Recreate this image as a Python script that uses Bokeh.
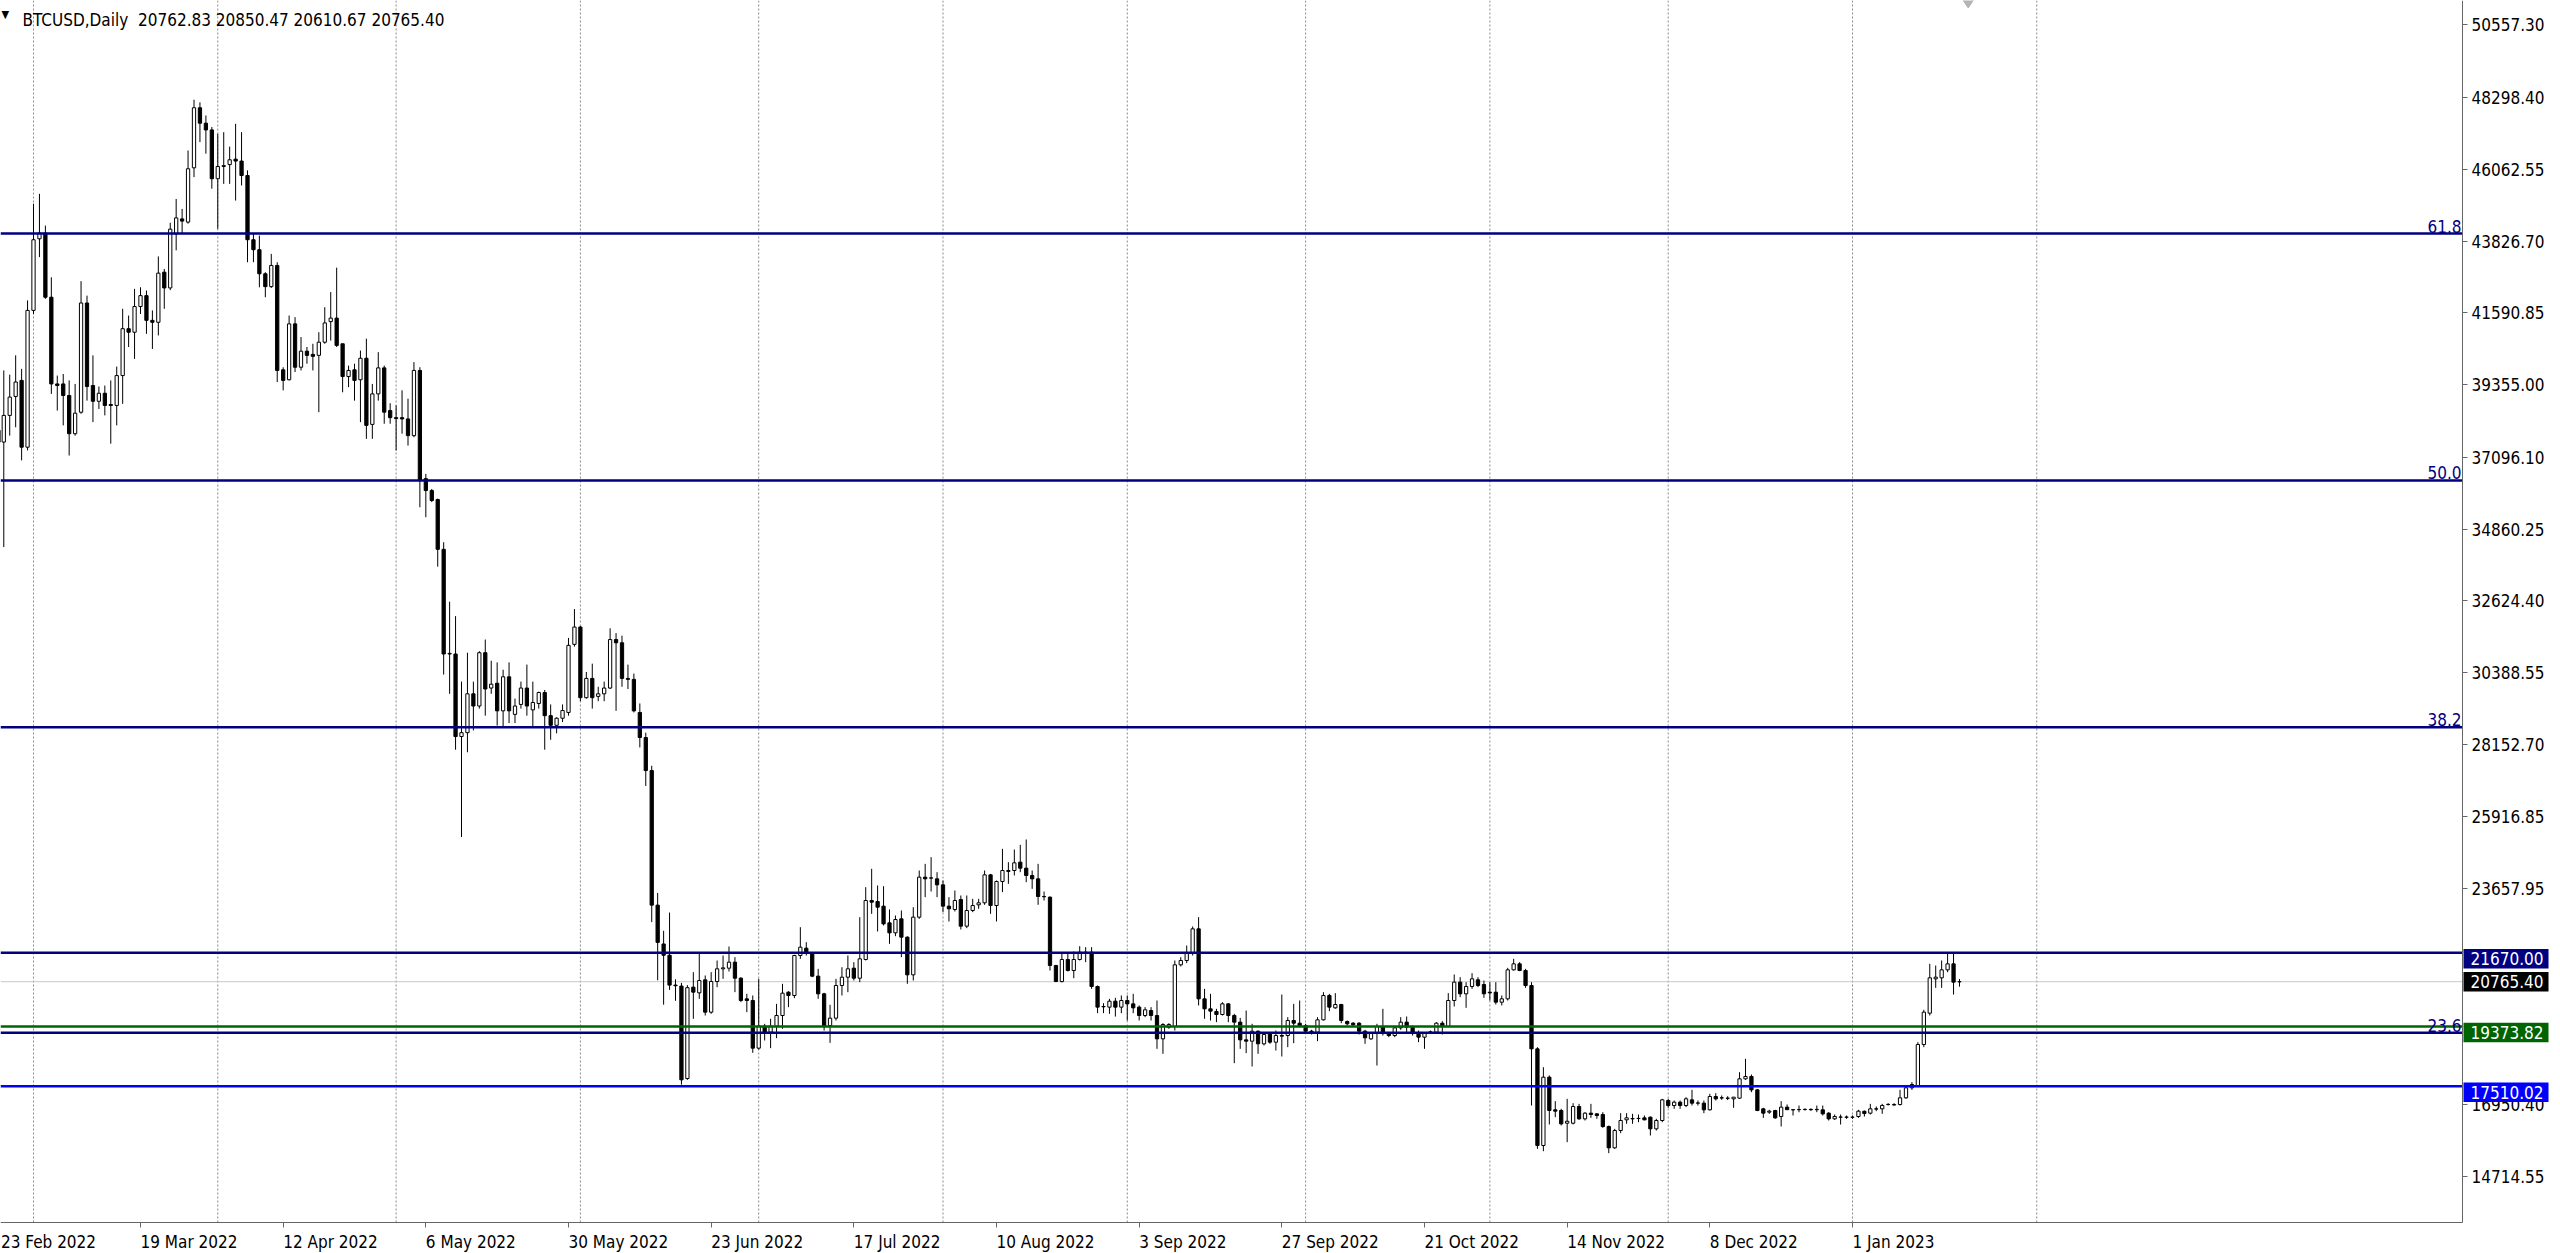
import datetime as dt
from bokeh.plotting import figure
from bokeh.models import ColumnDataSource, Range1d, FixedTicker, Label, LinearAxis
from bokeh.embed import file_html
from bokeh.resources import INLINE

symbol = "BTCUSD,Daily"
first_day = dt.date(2022, 2, 23)

# daily candles (open, high, low, close)
feb_2022 = [(37930, 38500, 37300, 37570), (37570, 39800, 34300, 38400), (38400, 39670, 37770, 38970),
            (38990, 40270, 38030, 39440), (39490, 39850, 37000, 37410), (37410, 41980, 37310, 41670)]
mar_2022 = [(41670, 44990, 41560, 43870), (43900, 45300, 43330, 44080), (44080, 44310, 42030, 42080),
            (42080, 42700, 39070, 39380), (39380, 39640, 38550, 39330), (39380, 39690, 38090, 39020),
            (39020, 39490, 37150, 37830), (37830, 39380, 37770, 38470), (38500, 42580, 38450, 41900),
            (41900, 42130, 38860, 39300), (39330, 40270, 38190, 38840), (38840, 39300, 38600, 39090),
            (39090, 39330, 38400, 38710), (38740, 39490, 37520, 38710), (38710, 39920, 38090, 39640),
            (39640, 41720, 38760, 41100), (41100, 41510, 40530, 40990), (40990, 42340, 40160, 41790),
            (41790, 42390, 41560, 42130), (42130, 42290, 40940, 41360), (41360, 41670, 40470, 41300),
            (41300, 43350, 40890, 42830), (42860, 42960, 41720, 42370), (42370, 44400, 42300, 44200),
            (44050, 45140, 43540, 44550), (44520, 44830, 44050, 44450), (44420, 46650, 44370, 46080),
            (46110, 48230, 45820, 47980), (47980, 48150, 46910, 47500), (47500, 47740, 46550, 47290),
            (47290, 47380, 45460, 45770)]
apr_2022 = [(45770, 47170, 44210, 46150), (46150, 47220, 45610, 46180), (46210, 46770, 45610, 46360),
            (46380, 47480, 45090, 46320), (46320, 47220, 45560, 45870), (45870, 46030, 43170, 43870),
            (43870, 44050, 43170, 43560), (43560, 44000, 42390, 42810), (42810, 42860, 42080, 42410),
            (42410, 43430, 42370, 43070), (43070, 43170, 39440, 39800), (39820, 39900, 39180, 39490),
            (39510, 41510, 39490, 41250), (41250, 41460, 39750, 39900), (39900, 40840, 39800, 40400),
            (40400, 40530, 40010, 40270), (40300, 40630, 39800, 40240), (40270, 40990, 38500, 40680),
            (40680, 41770, 40630, 41280), (41320, 42240, 40730, 41430), (41430, 43000, 40530, 40580),
            (40630, 40630, 39120, 39610), (39610, 39950, 39280, 39800), (39820, 40010, 38860, 39490),
            (39510, 40420, 38190, 40180), (40180, 40790, 37670, 38090), (38120, 39380, 37670, 39070),
            (39070, 40370, 38860, 39880), (39880, 39950, 38140, 38500), (38550, 38780, 38140, 38330)]
may_2022 = [(38330, 38710, 37310, 38300), (38330, 39180, 37830, 38290), (38290, 38920, 37460, 37770),
            (37770, 40060, 37720, 39800), (39800, 39900, 35540, 36370), (36430, 36580, 35230, 36060),
            (36060, 36110, 35700, 35750), (35780, 35810, 33690, 34230), (34230, 34450, 30330, 30970),
            (30970, 32600, 29730, 30990), (30970, 32150, 27990, 28400), (28400, 30110, 25270, 28520),
            (28520, 31010, 27910, 29730), (29730, 30110, 28590, 29350), (29350, 31060, 29270, 31010),
            (31010, 31420, 29050, 29880), (29910, 30760, 29730, 30030), (30060, 30710, 28740, 29200),
            (29200, 30480, 28670, 30260), (30260, 30710, 28820, 29200), (29090, 29580, 28820, 29350),
            (29400, 30110, 29270, 29910), (29910, 30640, 29050, 29350), (29230, 30110, 28670, 29460),
            (29430, 29800, 29270, 29770), (29770, 29850, 27990, 29050), (29050, 29400, 28300, 28750),
            (28750, 29000, 28500, 28970), (28970, 29400, 28850, 29210), (29150, 31470, 29050, 31240),
            (31270, 32370, 31200, 31810)]
jun_2022 = [(31810, 31840, 29500, 29610), (29610, 30410, 29580, 30210), (30210, 30670, 29270, 29610),
            (29650, 29950, 29500, 29730), (29730, 30110, 29500, 29910), (29910, 31770, 29880, 31420),
            (31420, 31620, 29200, 31320), (31320, 31540, 29950, 30210), (30210, 30640, 29880, 30180),
            (30180, 30360, 29150, 29200), (29150, 29430, 28060, 28370), (28370, 28520, 26860, 27340),
            (27340, 27490, 22620, 23150), (23150, 23530, 20810, 21990), (21940, 22350, 20050, 21590),
            (21590, 22920, 20510, 20660), (20660, 20840, 20170, 20640), (20630, 20730, 17560, 17710),
            (17750, 20660, 17710, 20580), (20595, 21062, 19609, 20440), (20419, 21633, 20232, 20803),
            (20824, 20959, 19713, 19817), (19817, 21062, 19765, 20772), (20772, 21426, 20595, 21166),
            (21166, 21581, 20855, 21197), (21187, 21862, 21083, 21374), (21374, 21530, 20440, 20875),
            (20875, 20907, 20128, 20180), (20232, 20388, 19817, 20180), (20180, 20336, 18550, 18696)]
jul_2022 = [(18696, 20855, 18650, 19381), (19381, 19453, 18935, 19194), (19194, 19609, 18696, 19381),
            (19381, 20076, 19007, 19713), (19713, 20699, 19298, 20408), (20439, 20471, 19972, 20336),
            (20336, 21602, 20253, 21581), (21581, 22464, 21478, 21841), (21810, 21997, 21581, 21664),
            (21664, 21685, 20907, 20938), (20938, 21166, 20232, 20388), (20388, 20420, 19246, 19381),
            (19401, 20045, 18862, 19630), (19630, 20855, 19557, 20647), (20647, 21218, 20336, 20906),
            (20906, 21581, 20440, 21166), (21187, 21374, 20803, 20875), (20875, 22775, 20751, 21478),
            (21457, 23709, 21426, 23294), (23294, 24280, 22879, 23242), (23263, 23761, 22329, 23086),
            (23118, 23740, 22516, 22567), (22599, 23014, 21945, 22287), (22287, 22827, 22183, 22702),
            (22723, 22983, 21530, 22152), (22152, 22180, 20699, 20979), (20979, 23086, 20803, 22775),
            (22775, 24228, 22723, 24021), (24021, 24436, 23398, 23969), (23990, 24643, 23574, 24000),
            (23969, 24176, 23398, 23782)]
aug_2022 = [(23782, 23917, 22931, 23118), (23118, 23398, 22640, 23035), (23014, 23605, 22952, 23294),
            (23325, 23450, 22391, 22495), (22495, 23450, 22433, 22983), (22983, 23346, 22931, 23138),
            (23159, 23346, 23035, 23222), (23222, 24228, 23159, 24093), (24093, 24120, 22879, 23138),
            (23138, 23917, 22640, 23886), (23886, 24903, 23554, 24228), (24228, 24488, 23813, 24200),
            (24228, 24882, 24073, 24467), (24488, 25028, 24176, 24301), (24301, 25194, 23865, 24073),
            (24073, 24228, 23657, 23969), (23969, 24436, 23159, 23419), (23419, 23574, 23294, 23410),
            (23398, 23420, 21114, 21270), (21270, 21291, 20751, 20772), (20772, 21685, 20740, 21457),
            (21457, 21685, 21083, 21114), (21114, 21706, 20875, 21457), (21457, 21872, 21426, 21685),
            (21685, 21841, 21374, 21675), (21685, 21841, 20543, 20616), (20616, 20647, 19786, 19973),
            (19993, 20097, 19786, 19983), (19973, 20232, 19765, 20159), (20159, 20263, 19680, 19973),
            (19973, 20336, 19786, 20180)]
sep_2022 = [(20180, 20336, 19557, 20076), (20076, 20388, 19786, 19952), (19973, 20025, 19557, 19713),
            (19713, 19973, 19661, 19890), (19869, 19973, 19557, 19713), (19713, 20180, 18675, 18986),
            (18986, 19474, 18519, 19433), (19350, 19474, 19298, 19433), (19371, 21426, 19246, 21291),
            (21291, 21530, 21239, 21426), (21426, 21893, 21343, 21654), (21654, 22485, 21581, 22412),
            (22412, 22775, 20025, 20232), (20232, 20543, 19610, 19921), (19921, 20388, 19557, 19848),
            (19838, 19921, 19506, 19744), (19744, 20128, 19713, 20076), (20076, 20097, 19506, 19713),
            (19713, 19765, 18229, 19506), (19506, 19640, 18675, 18955), (18955, 19869, 18540, 18914),
            (18914, 19454, 18125, 19225), (19225, 19246, 18519, 18831), (18831, 19194, 18779, 19121),
            (19142, 19194, 18831, 18883), (18883, 19246, 18623, 19090), (19090, 20367, 18436, 19070),
            (19090, 19661, 18727, 19557), (19557, 20076, 18851, 19474), (19474, 20180, 19350, 19371)]
oct_2022 = [(19402, 19454, 19194, 19225), (19225, 19267, 19121, 19194), (19194, 19661, 18914, 19578),
            (19578, 20440, 19557, 20336), (20336, 20388, 19848, 19973), (19952, 20409, 19921, 20056),
            (20056, 20076, 19474, 19557), (19526, 19557, 19402, 19454), (19474, 19506, 19371, 19422),
            (19474, 19506, 19121, 19225), (19225, 19267, 18831, 19018), (18986, 19194, 18955, 19163),
            (19163, 19454, 18156, 19371), (19371, 19921, 19090, 19194), (19163, 19194, 19038, 19090),
            (19090, 19371, 19038, 19329), (19329, 19661, 19267, 19506), (19506, 19682, 19142, 19350),
            (19350, 19402, 19090, 19194), (19163, 19246, 18883, 19038), (19038, 19194, 18675, 19163),
            (19194, 19246, 19163, 19204), (19194, 19506, 19142, 19474), (19474, 19536, 19121, 19371),
            (19371, 20409, 19350, 20180), (20180, 20990, 19993, 20751), (20751, 20907, 20284, 20388),
            (20388, 20751, 19952, 20616), (20616, 21031, 20543, 20855), (20824, 20907, 20595, 20647),
            (20678, 20803, 20263, 20388)]
nov_2022 = [(20440, 20751, 20180, 20419), (20440, 20751, 20056, 20128), (20128, 20336, 20025, 20232),
            (20232, 21197, 20180, 21135), (21135, 21478, 21114, 21322), (21322, 21374, 21094, 21114),
            (21114, 21166, 20575, 20647), (20647, 20751, 16910, 18675), (18675, 18727, 15561, 15665),
            (15665, 18104, 15488, 17793), (17793, 17845, 16319, 16755), (16776, 17046, 16547, 16734),
            (16755, 16807, 16288, 16340), (16360, 17118, 15768, 16420), (16360, 16983, 16319, 16879),
            (16879, 16962, 16464, 16495), (16495, 16703, 16443, 16672), (16672, 16962, 16526, 16630),
            (16651, 16672, 16495, 16599), (16630, 16703, 16215, 16256), (16256, 16288, 15426, 15592),
            (15592, 16184, 15561, 16132), (16132, 16672, 16049, 16443), (16464, 16672, 16340, 16526),
            (16495, 16651, 16340, 16505), (16505, 16630, 16391, 16510), (16526, 16600, 16450, 16464),
            (16547, 16568, 15976, 16184), (16184, 16495, 16132, 16443), (16443, 17118, 16391, 17087)]
dec_2022 = [(17066, 17118, 16838, 16910), (16910, 17066, 16807, 17014), (17014, 17066, 16807, 16910),
            (16910, 17170, 16859, 17118), (17087, 17398, 16910, 16983), (16983, 17066, 16910, 16990),
            (16983, 17066, 16672, 16776), (16776, 17274, 16755, 17191), (17191, 17294, 17066, 17118),
            (17150, 17222, 17087, 17145), (17140, 17200, 17080, 17135), (17118, 17170, 16838, 17170),
            (17139, 17949, 17118, 17741), (17741, 18364, 17710, 17814), (17814, 17876, 17326, 17398),
            (17398, 17420, 16734, 16755), (16807, 16838, 16526, 16672), (16703, 16776, 16651, 16734),
            (16755, 16776, 16495, 16526), (16568, 17046, 16257, 16859), (16859, 16942, 16776, 16780),
            (16776, 16800, 16600, 16780), (16780, 16910, 16700, 16785), (16785, 16820, 16750, 16790),
            (16790, 16820, 16740, 16780), (16780, 16910, 16703, 16790), (16776, 16910, 16599, 16651),
            (16672, 16703, 16443, 16495), (16495, 16630, 16464, 16568), (16547, 16630, 16318, 16550),
            (16550, 16599, 16495, 16545)]
jan_2023 = [(16545, 16599, 16495, 16547), (16568, 16776, 16526, 16734), (16730, 16755, 16568, 16660),
            (16672, 16962, 16630, 16807), (16807, 16880, 16734, 16800), (16807, 16962, 16651, 16911),
            (16940, 16983, 16910, 16945), (16926, 16983, 16910, 16941), (16941, 17398, 16910, 17149),
            (17149, 17533, 17118, 17461), (17461, 17637, 17398, 17564), (17533, 18883, 17481, 18810),
            (18810, 19890, 18727, 19817), (19786, 21322, 19713, 20886), (20855, 21270, 20575, 20907),
            (20886, 21426, 20575, 21135), (21135, 21633, 21062, 21322), (21322, 21654, 20367, 20751),
            (20762.83, 20850.47, 20610.67, 20765.40)]

date_labels = ["23 Feb 2022", "19 Mar 2022", "12 Apr 2022", "6 May 2022", "30 May 2022", "23 Jun 2022",
               "17 Jul 2022", "10 Aug 2022", "3 Sep 2022", "27 Sep 2022", "21 Oct 2022", "14 Nov 2022",
               "8 Dec 2022", "1 Jan 2023"]
price_labels = ["50557.30", "48298.40", "46062.55", "43826.70", "41590.85", "39355.00", "37096.10",
                "34860.25", "32624.40", "30388.55", "28152.70", "25916.85", "23657.95", "16950.40", "14714.55"]
fib_names = ["61.8", "50.0", "38.2", "23.6"]
fib_prices = [44063, 36375, 28687, 19175]
level_prices = [21670.00, 19373.82, 17510.02]
level_colors = ["#000080", "#006400", "#0000ff"]
bid_price = 20765.40
last_bar = [20762.83, 20850.47, 20610.67, 20765.40]

FONT = "DejaVu Sans Condensed"
FS = "17px"
NAVY = "#000080"
AXIS = "#666666"

rows = (feb_2022 + mar_2022 + apr_2022 + may_2022 + jun_2022 + jul_2022 + aug_2022 +
        sep_2022 + oct_2022 + nov_2022 + dec_2022 + jan_2023)
xs = list(range(len(rows)))
o = [r[0] for r in rows]
c = [r[3] for r in rows]
h = [max(r) for r in rows]
l = [min(r) for r in rows]
src = ColumnDataSource(dict(
    x=xs, high=h, low=l,
    top=[max(a, b) for a, b in zip(o, c)],
    bottom=[min(a, b) for a, b in zip(o, c)],
    fill=["white" if b >= a else "black" for a, b in zip(o, c)],
))

# view geometry: the whole canvas is the frame; axes sit at fixed locations inside it
W, H = 2560, 1252
PX_PER_DAY = 5.9444
USD_PER_PX = 31.14
X0 = 0.448
X1 = X0 + W / PX_PER_DAY
Y1 = 51320.2
Y0 = Y1 - H * USD_PER_PX
AXIS_PX, BASE_PX = 2462, 1222

def x_at(px):
    return X0 + px / PX_PER_DAY

def y_at(py):
    return Y1 - py * USD_PER_PX

def py_of(price):
    return (Y1 - price) / USD_PER_PX

AXIS_X = x_at(AXIS_PX)
BASE_Y = y_at(BASE_PX)

p = figure(width=W, height=H, x_range=Range1d(X0, X1), y_range=Range1d(Y0, Y1),
           output_backend="svg", toolbar_location=None, x_axis_type=None, y_axis_type=None,
           min_border=0, background_fill_color="white", border_fill_color="white",
           outline_line_color=None)
p.xgrid.visible = False
p.ygrid.visible = False

# monthly dotted grid (stops at the time axis)
month_pos = []
yy, mm = 2022, 3
while (yy, mm) <= (2023, 2):
    month_pos.append((dt.date(yy, mm, 1) - first_day).days)
    mm += 1
    if mm > 12:
        mm, yy = 1, yy + 1
p.segment(x0=month_pos, y0=[BASE_Y] * len(month_pos), x1=month_pos, y1=[Y1] * len(month_pos),
          line_color="#8a8a8a", line_dash="2 2", line_width=1)

# bid line (under candles)
p.segment(x0=[X0], y0=[bid_price], x1=[AXIS_X], y1=[bid_price], line_color="#c8c8c8", line_width=1)

# candles
p.segment(x0="x", y0="high", x1="x", y1="low", source=src, line_color="black", line_width=1)
p.vbar(x="x", width=0.55, top="top", bottom="bottom", source=src,
       fill_color="fill", line_color="black", line_width=1)

# fibonacci and horizontal levels
p.segment(x0=[X0] * 4, y0=fib_prices, x1=[AXIS_X] * 4, y1=fib_prices, line_color=NAVY, line_width=2.5)
p.segment(x0=[X0] * 3, y0=level_prices, x1=[AXIS_X] * 3, y1=level_prices,
          line_color=level_colors, line_width=2.5)

# chart-shift marker at top
p.scatter(x=[x_at(1967.7)], y=[Y1], marker="diamond", size=15,
          fill_color="#b4b4b4", line_color="#b4b4b4")

# bottom time axis: small tick at label start, text right of it
CW = {**{d: 0.636 for d in "0123456789"}, " ": 0.318, "A": .684, "D": .770, "F": .575, "J": .295,
      "M": .863, "N": .748, "O": .787, "S": .635, "a": .613, "b": .635, "c": .550, "e": .615,
      "g": .635, "l": .278, "n": .634, "o": .612, "p": .635, "r": .411, "t": .392, "u": .634,
      "v": .592, "y": .592}
def text_px(s):
    return sum(CW.get(ch, 0.6) for ch in s) * 0.9 * 17

label_days = [(dt.datetime.strptime(s, "%d %b %Y").date() - first_day).days for s in date_labels]
centers, overrides = [], {}
for d, s in zip(label_days, date_labels):
    half = text_px(s) / 2 / PX_PER_DAY
    cx = round(max(d + half, X0 + half), 3)
    centers.append(cx)
    overrides[cx] = s
xa = LinearAxis(fixed_location=BASE_Y, bounds=(X0, AXIS_X),
                ticker=FixedTicker(ticks=centers, minor_ticks=[d for d in label_days if d > X0]))
xa.major_label_overrides = overrides
xa.major_tick_out = 0
xa.major_tick_in = 0
xa.minor_tick_out = 5
xa.minor_tick_in = 0
xa.minor_tick_line_color = AXIS
xa.axis_line_color = AXIS
xa.major_label_standoff = 4
xa.major_label_text_font = FONT
xa.major_label_text_font_size = FS
xa.major_label_text_color = "black"
p.add_layout(xa, "below")

ya = LinearAxis(fixed_location=AXIS_X, bounds=(BASE_Y, Y1),
                ticker=FixedTicker(ticks=[float(s) for s in price_labels]))
ya.major_label_overrides = {float(s): s for s in price_labels}
ya.major_tick_out = 5
ya.major_tick_in = 0
ya.major_tick_line_color = AXIS
ya.axis_line_color = AXIS
ya.major_label_standoff = 4
ya.major_label_text_font = FONT
ya.major_label_text_font_size = FS
ya.major_label_text_color = "black"
p.add_layout(ya, "right")

# fibonacci level captions
for name, price in zip(fib_names, fib_prices):
    p.add_layout(Label(x=AXIS_PX - 1, y=price, x_units="screen", y_units="data", text=name,
                       text_align="right", text_baseline="bottom", y_offset=1,
                       text_font=FONT, text_font_size=FS, text_color=NAVY))

# price tags on the price scale (drawn above the axis labels)
tag_prices = level_prices + [bid_price]
tag_colors = level_colors + ["black"]
tag_shift = [6, 6, 6, 0]
tag_mid = [y_at(py_of(pr) + s) for pr, s in zip(tag_prices, tag_shift)]
p.quad(left=[x_at(AXIS_PX + 1)] * 4, right=[x_at(2548)] * 4,
       top=[y_at(py_of(m) - 9.75) for m in tag_mid], bottom=[y_at(py_of(m) + 9.75) for m in tag_mid],
       fill_color=tag_colors, line_color=None, level="annotation")
for pr, m in zip(tag_prices, tag_mid):
    p.add_layout(Label(x=AXIS_PX + 8, y=m, x_units="screen", y_units="data", text=f"{pr:.2f}",
                       text_align="left", text_baseline="middle",
                       text_font=FONT, text_font_size=FS, text_color="white"))

# header
p.add_layout(Label(x=1, y=H - 14, x_units="screen", y_units="screen", text="\u25BC",
                   text_font=FONT, text_font_size="11px", text_color="black", text_baseline="alphabetic"))
p.add_layout(Label(x=22, y=H - 19.5, x_units="screen", y_units="screen", text=symbol,
                   text_font=FONT, text_font_size=FS, text_color="black", text_baseline="alphabetic"))
p.add_layout(Label(x=137.5, y=H - 19.5, x_units="screen", y_units="screen",
                   text=" ".join(f"{v:.2f}" for v in last_bar),
                   text_font=FONT, text_font_size=FS, text_color="black", text_baseline="alphabetic"))

open("out.html", "w").write(file_html(p, INLINE))
